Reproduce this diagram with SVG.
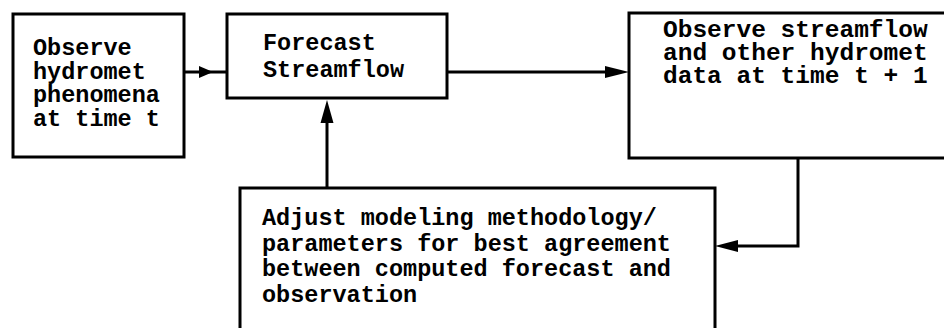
<svg xmlns="http://www.w3.org/2000/svg" width="944" height="328" viewBox="0 0 944 328">
  <style>
    .box { fill: #ffffff; stroke: #000000; stroke-width: 3; }
    .lbl { font-family: "Liberation Mono", "Courier New", monospace; font-weight: bold; font-size: 23.5px; fill: #000000; }
    .wide { font-size: 24.5px; }
    .wire { fill: none; stroke: #000000; stroke-width: 3; stroke-linejoin: miter; }
    .head { fill: #000000; stroke: none; }
  </style>
  <rect width="944" height="328" fill="#ffffff"/>

  <g id="observe-hydromet">
    <rect class="box" x="13" y="14" width="171" height="143"/>
    <text class="lbl" x="33" y="55">Observe</text>
    <text class="lbl" x="33" y="79">hydromet</text>
    <text class="lbl" x="33" y="102">phenomena</text>
    <text class="lbl" x="33" y="126">at time t</text>
  </g>

  <g id="forecast-streamflow">
    <rect class="box" x="227" y="14" width="220" height="84"/>
    <text class="lbl" x="263" y="50">Forecast</text>
    <text class="lbl" x="263" y="77">Streamflow</text>
  </g>

  <g id="observe-streamflow">
    <path class="box" d="M 950 13 H 629 V 158 H 950"/>
    <text class="lbl wide" x="663" y="37">Observe streamflow</text>
    <text class="lbl wide" x="663" y="60">and other hydromet</text>
    <text class="lbl wide" x="663" y="83">data at time t + 1</text>
  </g>

  <g id="adjust-model">
    <path class="box" d="M 240 335 V 188 H 715 V 335"/>
    <text class="lbl" x="262" y="225">Adjust modeling methodology/</text>
    <text class="lbl" x="262" y="250.5">parameters for best agreement</text>
    <text class="lbl" x="262" y="276">between computed forecast and</text>
    <text class="lbl" x="262" y="301.5">observation</text>
  </g>

  <g id="connectors">
    <!-- observe phenomena to forecast -->
    <path class="wire" d="M 184 72 H 227"/>
    <polygon class="head" points="213,72 199,66 199,78"/>
    <!-- forecast to observed streamflow -->
    <path class="wire" d="M 447 72 H 620"/>
    <polygon class="head" points="629,72 605,66 605,78"/>
    <!-- observed data back to adjustment -->
    <path class="wire" d="M 798 158 V 246 H 724"/>
    <polygon class="head" points="715,246 738,240 738,252"/>
    <!-- adjustment feeds forecast -->
    <path class="wire" d="M 327 188 V 108"/>
    <polygon class="head" points="327,100 320.5,123 333.5,123"/>
  </g>
</svg>
